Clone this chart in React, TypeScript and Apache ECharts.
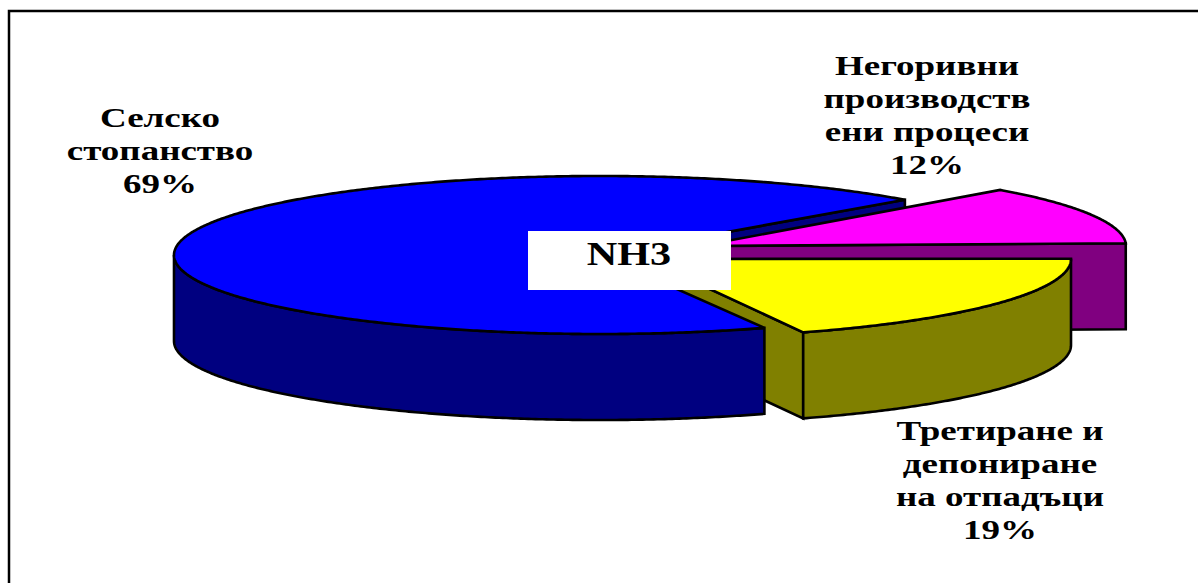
import React, { useEffect, useRef } from "react";
import * as echarts from "echarts";

const WIDTH = 1198;
const HEIGHT = 583;

// Slices in drawing order round the pie, counter-clockwise from the right-hand side.
const categories = ["Негоривни\nпроизводств\nени процеси", "Селско\nстопанство", "Третиране и\nдепониране\nна отпадъци"];
const shares = [12, 69, 19];
const topColors = ["#FF00FF", "#0000FF", "#FFFF00"];
const wallColors = ["#800080", "#000080", "#808000"];

// Exploded slices: each has its own apex and a small perspective correction of its angle.
const apexX = [700, 600, 645];
const apexY = [246, 255, 259];
const angleNudge = [2, 1.1, 0.2];
const labelX = [927, 160, 1000];
const labelY = [115, 151, 480];

const RX = 426;
const RY = 79;
const DEPTH = 86;
const STROKE = { stroke: "#000", lineWidth: 2.6, lineJoin: "miter" as const };

type Pt = [number, number];

const total = shares.reduce((a, b) => a + b, 0);
const starts = shares.map((_, i) => shares.slice(0, i).reduce((a, b) => a + b, 0) * (360 / total));

const rim = (i: number, deg: number): Pt => {
  const r = (deg * Math.PI) / 180;
  return [apexX[i] + RX * Math.cos(r), apexY[i] - RY * Math.sin(r)];
};

const arc = (i: number, from: number, to: number): Pt[] => {
  const pts: Pt[] = [];
  const n = Math.max(2, Math.ceil(Math.abs(to - from) * 2));
  for (let k = 0; k <= n; k++) pts.push(rim(i, from + ((to - from) * k) / n));
  return pts;
};

const drop = (pts: Pt[]): Pt[] => pts.map(([x, y]) => [x, y + DEPTH] as Pt);

const poly = (points: Pt[], fill: string, z2: number) => ({
  type: "polygon",
  z2,
  silent: true,
  shape: { points },
  style: { fill, ...STROKE },
});

const renderSlice = (params: any) => {
  const i = params.dataIndex;
  const from = starts[i] + angleNudge[i];
  const to = from + (shares[i] * 360) / total;
  const apex: Pt = [apexX[i], apexY[i]];
  const z = [2, 6, 4][i];
  const children: any[] = [];

  // The wall along each slice's starting radius faces the viewer; blue's sits behind everything.
  const edge = rim(i, from);
  children.push(poly([apex, edge, ...drop([edge]), ...drop([apex])], wallColors[i], i === 1 ? 0 : z));

  // Outer wall, only the part on the near half of the ellipse.
  const sideFrom = Math.max(from, 180);
  if (to > sideFrom) {
    const side = arc(i, sideFrom, to);
    children.push(poly([...side, ...drop(side).reverse()], wallColors[i], z));
  }

  // Top face.
  children.push(poly([apex, ...arc(i, from, to)], topColors[i], z + 1));
  return { type: "group", children };
};

const labelGraphics = categories.map((name, i) => ({
  type: "text",
  x: labelX[i],
  y: labelY[i],
  scaleX: 1.37,
  z: 20,
  silent: true,
  style: {
    text: `${name}\n${shares[i]}%`,
    fill: "#000",
    font: 'bold 27px "Liberation Serif"',
    lineHeight: 33,
    align: "center",
    verticalAlign: "middle",
  },
}));

export default function App() {
  const ref = useRef<HTMLDivElement>(null);

  useEffect(() => {
    const chart = echarts.init(ref.current!, undefined, { renderer: "svg" });
    chart.setOption({
      animation: false,
      backgroundColor: "#fff",
      series: [
        {
          type: "custom",
          coordinateSystem: "none",
          silent: true,
          data: shares,
          renderItem: renderSlice,
        },
      ],
      graphic: [
        {
          type: "polyline",
          z: 20,
          silent: true,
          shape: { points: [[9, HEIGHT], [9, 11], [WIDTH, 11]] },
          style: { stroke: "#000", lineWidth: 2.5, fill: "none" },
        },
        ...labelGraphics,
        {
          type: "rect",
          z: 20,
          silent: true,
          shape: { x: 528, y: 231, width: 203, height: 59 },
          style: { fill: "#fff" },
        },
        {
          type: "text",
          x: 629,
          y: 254,
          scaleX: 1.28,
          z: 21,
          silent: true,
          style: {
            text: "NH3",
            fill: "#000",
            font: 'bold 33px "Liberation Serif"',
            align: "center",
            verticalAlign: "middle",
          },
        },
      ],
    });
    return () => chart.dispose();
  }, []);

  return <div ref={ref} style={{ position: "fixed", left: 0, top: 0, width: WIDTH, height: HEIGHT }} />;
}
